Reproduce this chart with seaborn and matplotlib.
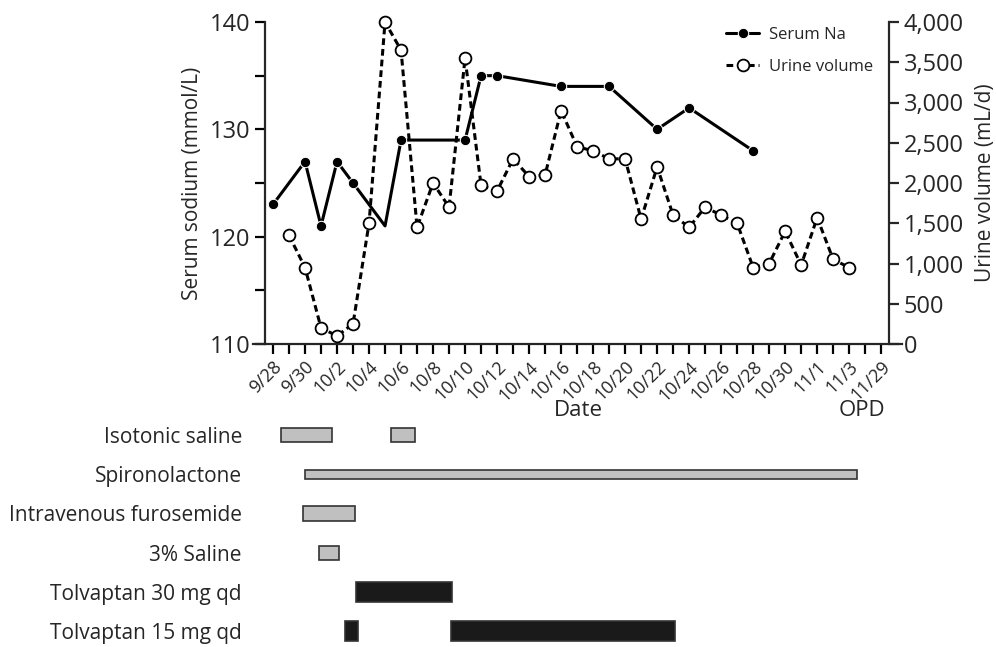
import matplotlib
matplotlib.use("Agg")
import matplotlib.pyplot as plt
from matplotlib.ticker import FuncFormatter, MultipleLocator
import seaborn as sns
import pandas as pd

# serum sodium (mmol/L)
na_dates = ["9/28", "9/30", "10/1", "10/2", "10/3", "10/5", "10/6", "10/10",
            "10/11", "10/12", "10/16", "10/19", "10/22", "10/24", "10/28"]
na_values = [123, 127, 121, 127, 125, 121, 129, 129, 135, 135, 134, 134, 130, 132, 128]
na_unmarked = ["10/5"]

# urine volume (mL/d), daily 9/29 .. 11/3
urine_dates = ["9/29", "9/30", "10/1", "10/2", "10/3", "10/4", "10/5", "10/6", "10/7",
               "10/8", "10/9", "10/10", "10/11", "10/12", "10/13", "10/14", "10/15",
               "10/16", "10/17", "10/18", "10/19", "10/20", "10/21", "10/22", "10/23",
               "10/24", "10/25", "10/26", "10/27", "10/28", "10/29", "10/30", "10/31",
               "11/1", "11/2", "11/3"]
urine_values = [1350, 950, 200, 100, 250, 1500, 4000, 3650, 1450, 2000, 1700, 3550,
                1970, 1900, 2300, 2080, 2100, 2900, 2450, 2400, 2300, 2300, 1550,
                2200, 1600, 1450, 1700, 1600, 1500, 950, 1000, 1400, 980, 1570,
                1050, 950]

tick_labels = ["9/28", "9/30", "10/2", "10/4", "10/6", "10/8", "10/10", "10/12",
               "10/14", "10/16", "10/18", "10/20", "10/22", "10/24", "10/26",
               "10/28", "10/30", "11/1", "11/3", "11/29"]

# treatments: (label, start day, end day) in days after 9/28
treatments = ["Isotonic saline", "Spironolactone", "Intravenous furosemide",
              "3% Saline", "Tolvaptan 30 mg qd", "Tolvaptan 15 mg qd"]
treat_row = [0, 0, 1, 2, 3, 4, 5, 5]
treat_start = [0.5, 7.4, 2.0, 1.9, 2.9, 5.2, 4.5, 11.1]
treat_end = [3.7, 8.9, 36.5, 5.1, 4.1, 11.2, 5.3, 25.1]
treat_dark = [False, False, False, False, False, True, True, True]


def to_day(dates):
    d = pd.to_datetime(["2016/" + s for s in dates], format="%Y/%m/%d")
    return (d - pd.Timestamp("2016-09-28")).days.to_numpy()


sns.set_style("ticks")
plt.rcParams["font.family"] = ["Open Sans", "DejaVu Sans"]

na_df = pd.DataFrame({"day": to_day(na_dates), "na": na_values})
ur_df = pd.DataFrame({"day": to_day(urine_dates), "urine": urine_values})
marked = [i for i, d in enumerate(na_dates) if d not in na_unmarked]

W, H = 996, 647
fig = plt.figure(figsize=(W / 100, H / 100), dpi=100)
ax = fig.add_axes([253 / W, 1 - 344 / H, 649 / W, 322 / H])
ax2 = ax.twinx()

sns.lineplot(data=na_df, x="day", y="na", ax=ax, color="black", lw=2.2,
             marker="o", markersize=7.5, markevery=marked, label="Serum Na")
sns.lineplot(data=ur_df, x="day", y="urine", ax=ax2, color="black", lw=2.2,
             linestyle=(0, (2.2, 1.3)), marker="o", markersize=8.5,
             markerfacecolor="white", markeredgecolor="black", markeredgewidth=1.3,
             label="Urine volume", clip_on=False)

ax.set_xlim(-1.25, 39.3)
ax.set_ylim(110, 140)
ax2.set_ylim(0, 4000)

ax.spines["left"].set_position(("data", -0.5))
ax2.spines["right"].set_position(("data", 38.5))
for a in (ax, ax2):
    a.spines["top"].set_visible(False)
ax2.spines["left"].set_visible(False)
ax2.spines["bottom"].set_visible(False)
ax.spines["right"].set_visible(False)
for a in (ax, ax2):
    for s in a.spines.values():
        s.set_linewidth(1.6)

ax.set_xticks(range(0, 39, 2))
ax.set_xticks(range(0, 39), minor=True)
ax.set_xticklabels(tick_labels, rotation=45, ha="right", rotation_mode="anchor",
                   fontsize=13)
ax.yaxis.set_major_locator(MultipleLocator(10))
ax.yaxis.set_minor_locator(MultipleLocator(5))
ax2.yaxis.set_major_locator(MultipleLocator(500))
ax2.yaxis.set_major_formatter(FuncFormatter(lambda v, p: f"{int(v):,}"))
ax.tick_params(axis="both", which="both", length=7, width=1.6, color="black")
ax.tick_params(axis="y", labelsize=17)
ax.tick_params(axis="x", pad=3)
ax2.tick_params(axis="y", length=7, width=1.6, labelsize=17)

ax.set_xlabel("")
ax.set_ylabel("Serum sodium (mmol/L)", fontsize=15, labelpad=5)
ax2.set_ylabel("Urine volume (mL/d)", fontsize=15, labelpad=8)

if ax.get_legend():
    ax.get_legend().remove()
handles = [ax.lines[0], ax2.lines[0]]
ax2.legend(handles=handles, labels=["Serum Na", "Urine volume"], frameon=False,
           loc="upper left", bbox_to_anchor=(711 / W, 1 - 12 / H),
           bbox_transform=fig.transFigure, fontsize=12, handlelength=2.0,
           handletextpad=0.6, labelspacing=0.95)

fig.text(578 / W, 1 - 410 / H, "Date", ha="center", va="center", fontsize=16)
fig.text(862 / W, 1 - 410 / H, "OPD", ha="center", va="center", fontsize=16)

# treatment timeline
gx = fig.add_axes([253 / W, 1 - 646.7 / H, 649 / W, 231.3 / H])
heights = [0.36, 0.23, 0.38, 0.36, 0.51, 0.49]
for r, s, e, dark in zip(treat_row, treat_start, treat_end, treat_dark):
    gx.barh(r, e - s, left=s, height=heights[r],
            color="#1a1a1a" if dark else "#c0c0c0",
            edgecolor="#333333", linewidth=1.2)
gx.set_xlim(-1.25, 39.3)
gx.set_ylim(5.4, -0.5)
gx.set_yticks(range(len(treatments)))
gx.set_yticklabels(treatments, fontsize=15)
gx.set_xticks([])
gx.tick_params(axis="y", length=0, pad=8)
for s in gx.spines.values():
    s.set_visible(False)
gx.patch.set_alpha(0)

fig.savefig("out.png", dpi=100)
